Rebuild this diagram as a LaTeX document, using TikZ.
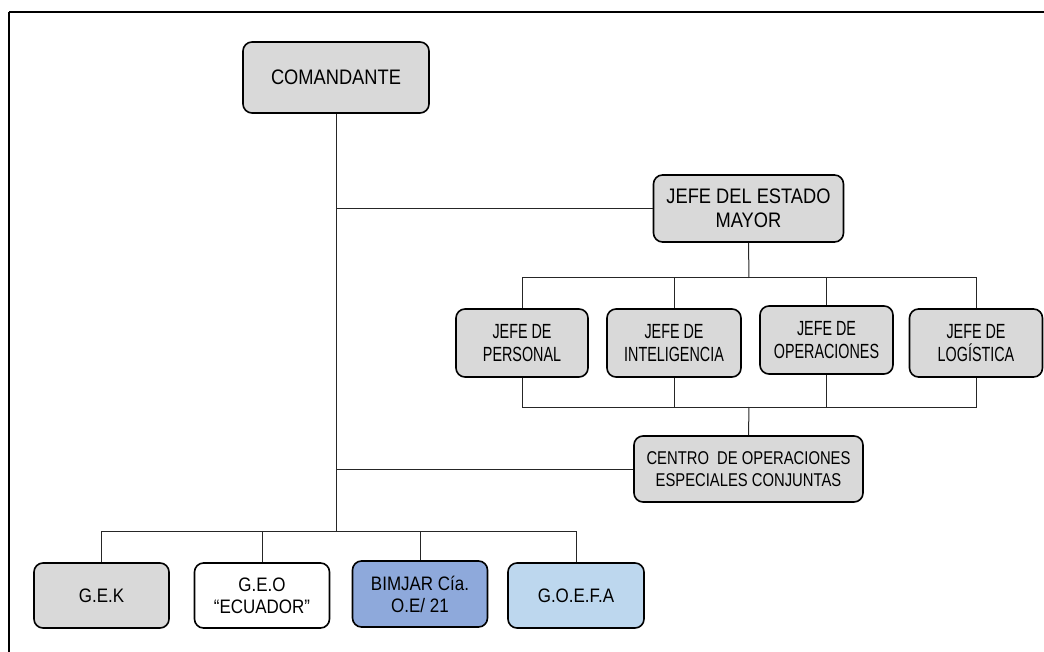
\documentclass[tikz,border=0pt]{standalone}
\usepackage{fontspec}
\setmainfont{Liberation Sans}
\newfontfamily\fA{Liberation Sans}[FakeStretch=0.87]
\newfontfamily\fN{Liberation Sans}[FakeStretch=0.70]
\newfontfamily\fC{Liberation Sans}[FakeStretch=0.80]
\definecolor{boxgray}{HTML}{D9D9D9}
\definecolor{bimjar}{HTML}{8EA9DB}
\definecolor{goefa}{HTML}{BDD7EE}
\tikzset{
  orgbox/.style={draw=black, line width=1.6pt, rounded corners=9pt, fill=boxgray,
    align=center, inner sep=0pt},
  conn/.style={draw=black!85, line width=1pt},
  bigtxt/.style={font=\fA\fontsize{21}{24}\selectfont},
  jtxt/.style={font=\fN\fontsize{20.5}{22.5}\selectfont},
  ctxt/.style={font=\fC\fontsize{18.5}{21.5}\selectfont},
  btxt/.style={font=\fA\fontsize{19.5}{22}\selectfont},
}
\begin{document}
\begin{tikzpicture}[x=1pt,y=-1pt]
\useasboundingbox (0,0) rectangle (1044,652);
% frame
\draw[line width=2pt] (9,12) -- (1050,12);
\draw[line width=1.3pt] (9,12) -- (9,660);

% nodes
\node[orgbox, bigtxt, minimum width=186, minimum height=71] (cmd) at (336,77.5) {COMANDANTE};
\node[orgbox, bigtxt, minimum width=190, minimum height=67] (jedm) at (748.5,208.5) {JEFE DEL ESTADO\\MAYOR};
\node[orgbox, jtxt, minimum width=132, minimum height=68] (p1) at (522,343) {JEFE DE\\PERSONAL};
\node[orgbox, jtxt, minimum width=134, minimum height=68] (p2) at (674,343) {JEFE DE\\INTELIGENCIA};
\node[orgbox, jtxt, minimum width=133, minimum height=68] (p3) at (826.5,340) {JEFE DE\\OPERACIONES};
\node[orgbox, jtxt, minimum width=133, minimum height=68] (p4) at (976,343) {JEFE DE\\LOGÍSTICA};
\node[orgbox, ctxt, minimum width=229, minimum height=66] (coes) at (748.5,469) {CENTRO\ \ DE OPERACIONES\\ESPECIALES CONJUNTAS};
\node[orgbox, btxt, minimum width=135, minimum height=65] (g1) at (101.5,595.5) {G.E.K};
\node[orgbox, btxt, fill=white, minimum width=135, minimum height=65] (g2) at (262,595.5) {G.E.O\\“ECUADOR”};
\node[orgbox, btxt, fill=bimjar, minimum width=135, minimum height=66] (g3) at (420,594) {BIMJAR Cía.\\O.E/ 21};
\node[orgbox, btxt, fill=goefa, minimum width=136, minimum height=65] (g4) at (576,595.5) {G.O.E.F.A};

% bus coordinates
\coordinate (ub) at (749,278);
\coordinate (lb) at (749,407);
\coordinate (bb) at (336,531);

% trunk
\draw[conn] (cmd.south) -- (bb);
\draw[conn] (cmd.south |- jedm.west) -- (jedm.west);
\draw[conn] (cmd.south |- coes.west) -- (coes.west);

% upper bus
\draw[conn] (jedm.south) -- (ub);
\draw[conn] (p1.north) -- (p1.north |- ub) -- (p4.north |- ub) -- (p4.north);
\draw[conn] (p2.north) -- (p2.north |- ub);
\draw[conn] (p3.north) -- (p3.north |- ub);

% lower bus
\draw[conn] (p1.south) -- (p1.south |- lb) -- (p4.south |- lb) -- (p4.south);
\draw[conn] (p2.south) -- (p2.south |- lb);
\draw[conn] (p3.south) -- (p3.south |- lb);
\draw[conn] (lb) -- (coes.north);

% bottom bus
\draw[conn] (g1.north) -- (g1.north |- bb) -- (g4.north |- bb) -- (g4.north);
\draw[conn] (g2.north) -- (g2.north |- bb);
\draw[conn] (g3.north) -- (g3.north |- bb);
\end{tikzpicture}
\end{document}
